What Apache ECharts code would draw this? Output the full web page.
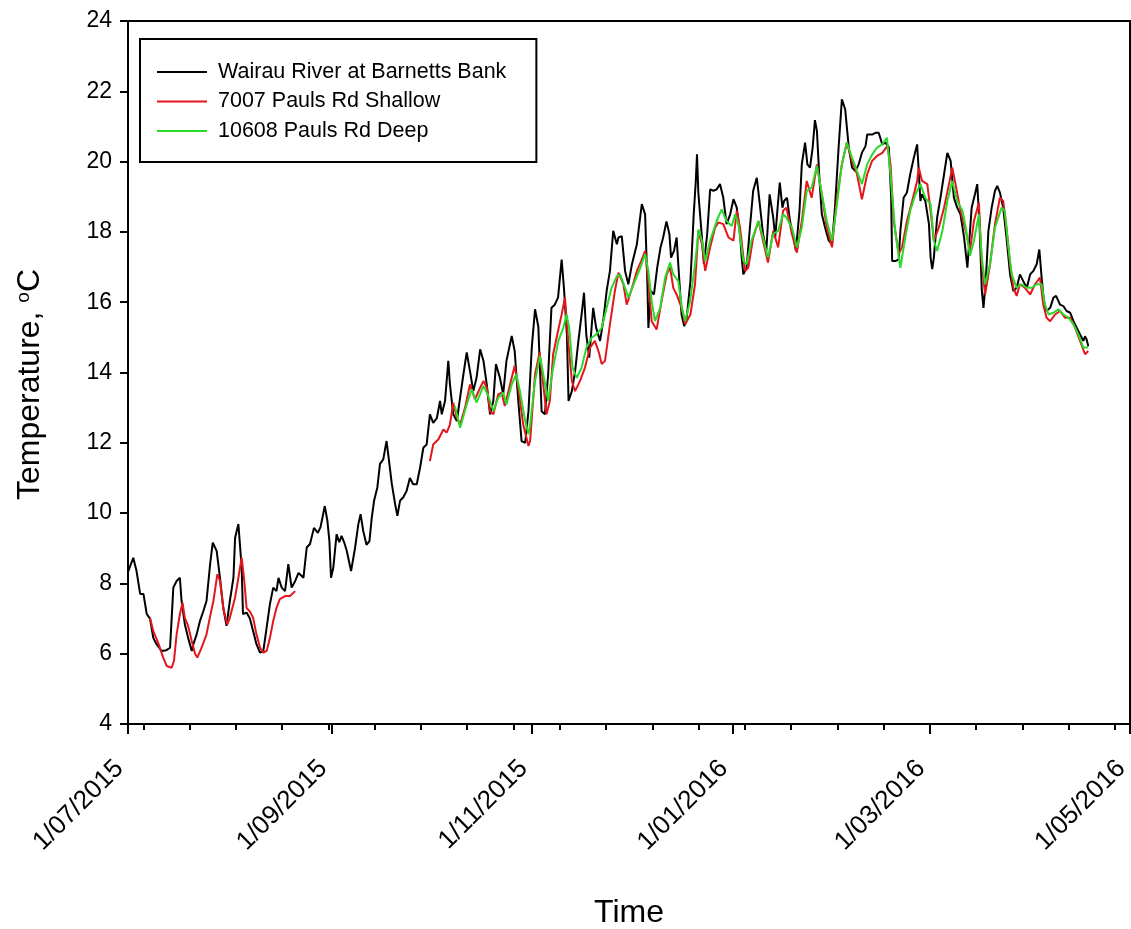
<!DOCTYPE html>
<html>
<head>
<meta charset="utf-8">
<script src="https://cdn.jsdelivr.net/npm/echarts@6/dist/echarts.min.js"></script>
<style>
html, body { margin: 0; padding: 0; background: #ffffff; }
#container { width: 1131px; height: 929px; }
</style>
</head>
<body>
<div id="container"></div>
<script type="text/javascript">
// x values are days counted from 1/07/2015
var majorTickDays = [0, 62, 123, 184, 244, 305];
var majorTickLabels = ['1/07/2015', '1/09/2015', '1/11/2015', '1/01/2016', '1/03/2016', '1/05/2016'];
// minor ticks: first one and spacing, in days
var minorTickFirst = 4.7;
var minorTickStep = 14.08;

// Wairau River at Barnetts Bank
var wairau = [
  [0.1,8.35],[1.6,8.73],[2.6,8.35],[3.7,7.7],[4.7,7.7],[5.7,7.13],[6.7,7.0],[7.7,6.45],[8.7,6.27],[10.2,6.08],
  [11.7,6.1],[12.8,6.17],[13.3,7.02],[13.8,7.88],[14.8,8.07],[15.8,8.16],[16.3,7.5],[17.3,6.84],[18.3,6.45],[19.4,6.08],
  [19.9,6.27],[20.9,6.55],[21.9,6.93],[22.9,7.2],[23.9,7.5],[25.0,8.55],[25.8,9.16],[27.0,8.92],[28.0,8.16],[29.0,7.3],
  [30.0,6.79],[31.0,7.5],[32.1,8.16],[32.6,9.3],[33.6,9.69],[34.6,8.45],[35.0,7.13],[36.1,7.17],[37.1,7.0],[38.1,6.64],
  [39.1,6.27],[40.2,6.03],[41.2,6.08],[42.2,6.74],[43.2,7.41],[44.2,7.88],[45.2,7.78],[45.8,8.16],[46.8,7.88],[47.8,7.78],
  [48.8,8.55],[49.8,7.88],[50.9,8.07],[51.9,8.3],[53.4,8.16],[54.4,9.02],[55.4,9.12],[56.6,9.58],[57.8,9.44],[58.6,9.6],
  [59.9,10.2],[60.7,9.78],[61.3,9.21],[61.8,8.16],[62.5,8.45],[63.5,9.4],[64.3,9.17],[65.0,9.35],[65.8,9.17],[66.6,8.92],
  [67.9,8.35],[69.1,9.0],[70.1,9.68],[70.8,9.97],[71.6,9.49],[72.6,9.1],[73.5,9.2],[74.2,9.87],[74.9,10.35],[75.9,10.73],
  [76.7,11.4],[77.7,11.53],[78.7,12.05],[79.2,11.68],[80.3,10.83],[81.3,10.26],[82.0,9.92],[82.8,10.35],[83.8,10.45],[84.8,10.63],
  [85.8,11.0],[86.8,10.82],[87.9,10.82],[88.9,11.29],[89.9,11.86],[90.9,11.95],[91.9,12.81],[92.9,12.57],[94.0,12.7],[95.0,13.19],
  [95.5,12.81],[96.5,13.19],[97.5,14.33],[98.0,13.66],[99.0,12.81],[100.1,12.62],[101.1,13.29],[102.1,13.95],[103.1,14.57],[104.1,14.04],
  [105.1,13.47],[106.1,13.85],[107.2,14.66],[108.2,14.33],[109.2,13.66],[110.2,12.81],[111.2,13.19],[112.0,14.24],[113.2,13.85],[114.2,13.38],
  [115.2,14.33],[116.8,15.04],[117.7,14.61],[118.8,13.19],[119.8,12.05],[120.9,12.0],[121.9,12.9],[122.9,14.7],[123.9,15.8],[124.9,15.3],
  [125.9,12.9],[126.9,12.81],[127.9,13.95],[128.9,15.84],[129.9,15.93],[130.9,16.13],[132.0,17.21],[132.7,16.4],[133.6,15.08],[134.1,13.19],
  [135.1,13.47],[136.1,14.04],[137.1,14.9],[138.2,15.75],[138.8,16.27],[139.5,15.08],[140.4,14.42],[141.1,15.27],[141.6,15.84],[142.5,15.27],
  [143.7,14.9],[144.7,15.5],[145.7,16.32],[146.7,16.89],[147.7,18.03],[148.8,17.65],[149.3,17.84],[150.3,17.88],[151.3,16.89],[152.3,16.51],
  [153.4,17.08],[154.9,17.65],[155.9,18.41],[156.4,18.79],[157.4,18.5],[158.1,16.51],[158.4,15.27],[159.1,16.32],[160.1,16.22],[161.1,16.99],
  [162.1,17.56],[162.9,17.84],[163.9,18.3],[164.8,17.94],[165.3,17.27],[166.2,17.46],[167.0,17.84],[167.5,17.08],[168.5,15.65],[169.3,15.32],
  [170.0,15.5],[171.2,16.6],[172.2,18.5],[172.8,19.4],[173.2,20.21],[173.6,19.12],[174.7,17.84],[175.3,17.08],[176.3,17.94],[177.2,19.21],
  [178.2,19.17],[179.2,19.21],[180.2,19.36],[181.2,18.97],[182.2,18.22],[183.3,18.5],[184.3,18.93],[185.3,18.69],[186.3,17.94],[186.8,17.27],
  [187.3,16.79],[188.3,16.98],[189.3,18.12],[190.3,19.17],[191.4,19.54],[192.2,18.88],[193.3,17.94],[194.3,17.46],[195.3,19.07],[196.4,18.41],
  [197.0,17.84],[197.9,18.88],[198.4,19.4],[199.2,18.69],[199.7,18.88],[200.6,18.97],[201.5,18.31],[202.6,17.84],[203.3,17.46],[204.4,18.6],
  [205.1,19.92],[206.1,20.54],[206.8,19.92],[207.6,19.83],[208.4,20.4],[209.1,21.18],[209.7,20.87],[210.5,19.45],[211.2,18.5],[212.2,18.12],
  [213.3,17.75],[214.3,17.65],[215.2,18.69],[216.3,20.4],[217.3,21.77],[218.3,21.49],[219.4,20.4],[220.4,19.83],[221.4,19.73],[222.4,19.92],
  [223.4,20.25],[224.5,20.44],[225.0,20.77],[226.5,20.77],[227.5,20.82],[228.5,20.82],[229.6,20.49],[230.6,20.54],[231.6,20.4],[232.3,18.97],
  [232.6,17.17],[233.6,17.17],[234.6,17.22],[235.1,18.03],[236.1,18.97],[237.1,19.12],[238.1,19.64],[239.2,20.11],[240.2,20.49],[240.7,19.73],
  [241.2,18.88],[241.7,19.07],[242.7,18.88],[243.8,18.22],[244.3,17.27],[244.8,16.94],[245.3,17.27],[246.3,18.41],[247.3,18.97],[248.4,19.64],
  [249.4,20.25],[250.4,20.02],[251.4,18.97],[252.4,18.69],[253.4,18.5],[254.5,17.84],[255.5,16.98],[256.1,17.75],[256.8,18.69],[257.8,19.07],
  [258.5,19.36],[259.2,18.22],[259.9,16.32],[260.4,15.84],[261.1,16.6],[261.9,18.03],[262.9,18.69],[263.9,19.17],[264.6,19.31],[265.4,19.12],
  [266.4,18.69],[267.5,17.75],[268.5,16.79],[269.5,16.32],[270.5,16.41],[271.5,16.79],[272.5,16.6],[273.6,16.41],[274.6,16.79],[275.6,16.89],
  [276.6,17.08],[277.4,17.5],[278.1,16.7],[278.8,16.03],[279.6,15.75],[280.7,15.84],[281.7,16.13],[282.5,16.18],[283.7,15.93],[284.7,15.89],
  [285.7,15.75],[286.8,15.7],[287.8,15.46],[288.8,15.27],[289.8,15.08],[290.8,14.9],[291.3,15.03],[291.8,14.94],[292.3,14.75]
];

// 7007 Pauls Rd Shallow (gap between late August and end of September)
var shallow = [
  [6.7,7.02],[7.7,6.64],[9.2,6.31],[10.7,5.89],[11.8,5.65],[13.3,5.6],[14.0,5.8],[14.8,6.55],[15.8,7.13],[16.6,7.45],
  [17.3,7.02],[18.3,6.79],[19.4,6.36],[20.4,6.0],[21.1,5.89],[22.4,6.17],[23.9,6.55],[24.9,7.02],[26.0,7.5],[27.2,8.26],
  [28.0,8.07],[29.0,7.3],[30.2,6.83],[31.0,7.02],[32.6,7.6],[33.6,8.16],[34.6,8.73],[35.3,8.16],[36.1,7.3],[37.1,7.2],
  [38.1,7.02],[39.1,6.55],[40.2,6.17],[41.2,6.03],[42.2,6.08],[43.2,6.45],[44.2,6.93],[45.2,7.3],[46.2,7.55],[47.8,7.64],
  [49.3,7.64],[50.9,7.78],[70,null],
  [91.9,11.48],[92.9,11.95],[94.5,12.1],[96.0,12.38],[97.0,12.29],[98.0,12.52],[99.0,13.14],[100.1,12.71],[101.1,12.52],[102.6,13.0],
  [104.1,13.66],[105.6,13.24],[107.2,13.57],[108.2,13.76],[109.2,13.57],[110.2,12.9],[111.2,12.81],[112.7,13.38],[113.7,13.43],[114.7,13.05],
  [116.3,13.66],[117.7,14.19],[118.8,13.57],[120.3,12.52],[121.9,11.91],[122.4,12.05],[123.9,13.95],[125.3,14.57],[126.4,13.66],[127.4,12.81],
  [128.4,13.19],[129.4,14.52],[130.9,15.18],[132.0,15.65],[133.0,16.13],[134.0,14.9],[135.1,13.76],[136.1,13.47],[137.6,13.76],[139.1,14.14],
  [140.6,14.7],[142.1,14.9],[143.2,14.61],[144.2,14.24],[145.2,14.33],[146.7,15.37],[148.2,16.32],[149.3,16.84],[150.8,16.51],[151.8,15.93],
  [153.4,16.4],[154.9,16.89],[156.4,17.21],[157.4,17.46],[158.4,16.6],[159.4,15.46],[160.9,15.22],[162.4,16.03],[164.0,16.79],[165.0,16.99],
  [166.0,16.4],[167.0,16.22],[168.5,15.84],[169.6,15.37],[171.2,15.65],[172.6,16.51],[173.6,18.03],[174.7,17.65],[175.7,16.89],[177.2,17.56],
  [178.7,18.12],[179.7,18.27],[181.2,18.22],[182.8,17.84],[184.3,17.75],[185.3,18.6],[186.3,18.12],[187.8,16.89],[188.8,16.98],[190.3,17.84],
  [191.9,18.31],[193.3,17.75],[194.8,17.13],[196.4,18.03],[197.9,17.56],[199.4,18.6],[200.4,18.69],[202.1,17.94],[203.6,17.41],[205.1,18.31],
  [206.6,19.45],[208.1,18.97],[209.7,19.92],[211.2,19.07],[212.7,18.12],[214.3,17.56],[215.8,18.97],[217.3,19.92],[218.8,20.54],[220.4,20.02],
  [221.9,19.64],[223.4,18.93],[225.0,19.64],[226.5,20.02],[228.0,20.16],[229.6,20.25],[231.1,20.44],[232.1,19.92],[233.1,18.31],[234.6,17.37],
  [235.6,17.56],[237.1,18.31],[238.7,18.88],[240.2,19.45],[240.7,19.83],[241.7,19.45],[243.3,19.36],[244.3,18.6],[245.3,17.75],[246.8,18.12],
  [248.4,18.69],[249.9,19.36],[250.9,19.83],[251.9,19.36],[253.4,18.6],[255.0,18.03],[256.3,17.46],[257.5,18.31],[259.0,18.83],[259.9,17.08],
  [260.9,16.22],[262.4,17.08],[263.9,18.22],[265.4,18.97],[266.4,18.88],[267.5,18.03],[268.5,17.08],[269.5,16.41],[270.5,16.18],[271.5,16.51],
  [273.0,16.41],[274.6,16.22],[276.1,16.51],[277.6,16.7],[278.6,15.93],[279.6,15.56],[280.7,15.46],[282.2,15.65],[283.7,15.75],[285.2,15.56],
  [286.8,15.56],[288.3,15.27],[289.8,14.9],[291.3,14.52],[292.3,14.61]
];

// 10608 Pauls Rd Deep
var deep = [
  [99.5,13.05],[101.1,12.43],[103.1,13.09],[104.6,13.52],[106.1,13.14],[108.2,13.62],[109.7,13.33],[111.2,12.9],[112.7,13.28],[114.2,13.43],
  [115.2,13.09],[116.8,13.66],[118.2,13.95],[119.3,13.47],[120.9,12.62],[121.9,12.24],[122.4,12.52],[123.9,13.76],[125.4,14.47],[126.4,13.95],
  [127.9,13.19],[129.4,14.14],[131.0,14.9],[132.5,15.27],[133.5,15.65],[134.3,15.27],[135.3,14.14],[136.6,13.85],[138.1,14.14],[139.5,14.7],
  [141.1,14.99],[142.5,15.08],[144.2,15.27],[145.7,15.84],[147.2,16.41],[148.8,16.74],[149.8,16.79],[151.3,16.41],[152.3,16.13],[153.9,16.51],
  [156.0,16.99],[157.4,17.37],[158.4,16.89],[159.4,16.03],[160.4,15.46],[162.0,15.84],[163.5,16.7],[165.0,17.13],[166.0,16.79],[167.5,16.6],
  [168.6,15.84],[169.6,15.46],[171.1,16.03],[172.6,17.08],[173.7,18.07],[174.7,17.75],[175.7,17.18],[177.2,17.75],[179.2,18.31],[180.7,18.64],
  [182.2,18.31],[183.8,18.17],[184.8,18.5],[185.8,18.22],[187.3,17.17],[188.3,17.08],[189.8,17.75],[191.9,18.31],[193.3,17.84],[194.8,17.27],
  [196.4,17.94],[197.9,18.03],[199.4,18.5],[200.4,18.41],[202.1,18.12],[203.6,17.56],[205.1,18.12],[206.6,19.17],[208.1,19.26],[209.7,19.88],
  [211.2,19.07],[212.7,18.31],[214.3,17.75],[215.8,18.79],[217.3,19.92],[218.8,20.54],[220.4,20.11],[221.9,19.73],[223.4,19.36],[225.0,19.92],
  [226.5,20.2],[228.0,20.4],[229.6,20.49],[231.0,20.68],[232.0,19.73],[233.5,18.03],[235.1,16.98],[236.6,17.84],[238.1,18.6],[239.7,19.07],
  [241.2,19.36],[242.7,18.97],[244.3,18.79],[245.3,17.75],[246.3,17.46],[247.9,18.03],[249.4,18.88],[250.9,19.45],[252.4,18.88],[254.0,18.6],
  [255.0,18.12],[256.3,17.32],[257.5,17.75],[259.0,18.5],[259.9,17.27],[260.9,16.51],[262.4,17.08],[263.9,18.12],[265.9,18.69],[266.9,18.6],
  [267.9,17.65],[269.0,16.79],[270.5,16.41],[272.0,16.51],[273.6,16.41],[275.1,16.41],[276.6,16.51],[278.1,16.51],[279.1,15.93],[280.2,15.65],
  [281.7,15.7],[283.2,15.8],[284.7,15.65],[286.3,15.56],[287.8,15.37],[289.3,15.08],[290.8,14.71],[292.3,14.71]
];

var minorTickDays = [];
for (var d = minorTickFirst; d < 305; d += minorTickStep) {
    minorTickDays.push(d);
}

var font = '"Liberation Sans", Arial, sans-serif';
var dom = document.getElementById("container");
var myChart = echarts.init(dom);
var option = {
    backgroundColor: '#ffffff',
    animation: false,
    grid: {
        left: 128,
        top: 21,
        right: 1,
        height: 703,
        containLabel: false,
        outerBoundsMode: 'none',
        show: true,
        borderColor: '#000',
        borderWidth: 2
    },
    legend: {
        orient: 'vertical',
        left: 140,
        top: 39,
        icon: 'rect',
        itemWidth: 50,
        itemHeight: 2,
        itemGap: 7.5,
        padding: [22, 30, 20, 17],
        borderColor: '#000',
        borderWidth: 2,
        textStyle: { fontFamily: font, fontSize: 21.5, color: '#000', padding: [0, 0, 0, 6] },
        data: ['Wairau River at Barnetts Bank', '7007 Pauls Rd Shallow', '10608 Pauls Rd Deep']
    },
    xAxis: [
        {
            type: 'value',
            min: 0,
            max: 305,
            name: 'Time',
            nameLocation: 'middle',
            nameGap: 173,
            nameMoveOverlap: false,
            nameTextStyle: { fontFamily: font, fontSize: 32, color: '#000' },
            splitLine: { show: false },
            axisLine: { lineStyle: { color: '#000', width: 2 } },
            axisTick: { show: true, inside: false, length: 10, customValues: majorTickDays, lineStyle: { color: '#000', width: 2 } },
            axisLabel: {
                customValues: majorTickDays,
                rotate: 45,
                margin: 32,
                padding: [0, 12, 0, 0],
                fontFamily: font,
                fontSize: 26,
                color: '#000',
                formatter: function (v) {
                    var i = majorTickDays.indexOf(v);
                    return i >= 0 ? majorTickLabels[i] : '';
                }
            }
        },
        {
            type: 'value',
            min: 0,
            max: 305,
            position: 'bottom',
            splitLine: { show: false },
            axisLine: { show: false },
            axisLabel: { show: false },
            axisTick: { show: true, length: 6, customValues: minorTickDays, lineStyle: { color: '#000', width: 2 } }
        }
    ],
    yAxis: {
        type: 'value',
        min: 4,
        max: 24,
        interval: 2,
        name: 'Temperature, {sup|o}C',
        nameLocation: 'middle',
        nameRotate: 90,
        nameGap: 82,
        nameMoveOverlap: false,
        nameTextStyle: {
            fontFamily: font,
            fontSize: 32,
            color: '#000',
            padding: [0, 24, 0, 0],
            rich: {
                sup: { fontFamily: font, fontSize: 19, color: '#000', verticalAlign: 'top', padding: [0, 0, 12, 0] }
            }
        },
        splitLine: { show: false },
        axisLine: { lineStyle: { color: '#000', width: 2 } },
        axisTick: { length: 8, lineStyle: { color: '#000', width: 2 } },
        axisLabel: { margin: 16, fontFamily: font, fontSize: 23, color: '#000' }
    },
    series: [
        {
            name: 'Wairau River at Barnetts Bank',
            type: 'line',
            data: wairau,
            showSymbol: false,
            color: '#000000',
            lineStyle: { width: 2 }
        },
        {
            name: '7007 Pauls Rd Shallow',
            type: 'line',
            data: shallow,
            showSymbol: false,
            connectNulls: false,
            color: '#e3161b',
            lineStyle: { width: 2 }
        },
        {
            name: '10608 Pauls Rd Deep',
            type: 'line',
            data: deep,
            showSymbol: false,
            color: '#2bd92b',
            lineStyle: { width: 2 }
        }
    ]
};

if (option && typeof option === "object") {
    myChart.setOption(option, true);
}
</script>
</body>
</html>
